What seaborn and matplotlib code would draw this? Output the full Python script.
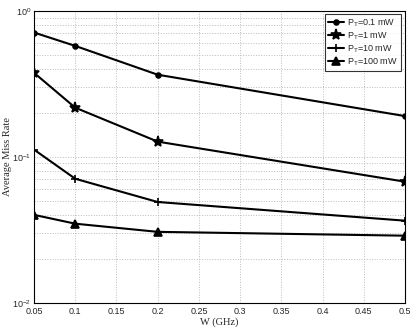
import seaborn as sns
import pandas as pd
import matplotlib.pyplot as plt

# Datos
bandwidth = [0.05, 0.1, 0.2, 0.5]
miss_01mw = [0.71, 0.575, 0.365, 0.19]
miss_1mw = [0.376, 0.217, 0.127, 0.0675]
miss_10mw = [0.112, 0.0707, 0.049, 0.0365]
miss_100mw = [0.040, 0.0348, 0.0306, 0.0288]
series_labels = ['P$_T$=0.1 mW', 'P$_T$=1 mW', 'P$_T$=10 mW', 'P$_T$=100 mW']
x_ticks = [0.05, 0.1, 0.15, 0.2, 0.25, 0.3, 0.35, 0.4, 0.45, 0.5]

rows = []
for label, values in zip(series_labels, [miss_01mw, miss_1mw, miss_10mw, miss_100mw]):
    for w, v in zip(bandwidth, values):
        rows.append({'W': w, 'Miss': v, 'Potencia': label})
df = pd.DataFrame(rows)

sns.set_style('white')
plt.rcParams['font.family'] = ['Liberation Sans', 'DejaVu Sans']
plt.rcParams['mathtext.fontset'] = 'custom'
plt.rcParams['mathtext.rm'] = 'Liberation Sans'
plt.rcParams['mathtext.it'] = 'Liberation Sans'

fig = plt.figure(figsize=(4.15, 3.28), dpi=100)
ax = fig.add_axes([0.082, 0.077, 0.894, 0.89])

markers = {series_labels[0]: 'o', series_labels[1]: '*', series_labels[2]: '+', series_labels[3]: '^'}
sizes = {series_labels[0]: 3.5, series_labels[1]: 8, series_labels[2]: 5.5, series_labels[3]: 5.5}
for label in series_labels:
    sub = df[df['Potencia'] == label]
    sns.lineplot(data=sub, x='W', y='Miss', ax=ax, color='black', linewidth=1.5,
                 marker=markers[label], markersize=sizes[label], markeredgewidth=1.2,
                 markeredgecolor='black', markerfacecolor='black', label=label)

ax.set_yscale('log')
ax.set_xlim(0.05, 0.5)
ax.set_ylim(0.01, 1)
ax.set_xticks(x_ticks)
ax.set_xticklabels([f'{t:g}' for t in x_ticks])
ax.tick_params(axis='both', labelsize=6.5, direction='in', length=3, which='both', pad=2)
ax.tick_params(axis='x', pad=3)
ax.tick_params(axis='both', which='minor', length=2)
ax.grid(True, which='major', linestyle=':', color='#bbbbbb', linewidth=0.7)
ax.grid(True, which='minor', axis='y', linestyle=':', color='#bbbbbb', linewidth=0.7)
for spine in ax.spines.values():
    spine.set_color('black')
    spine.set_linewidth(0.8)

ax.set_xlabel('W (GHz)', fontsize=7.5, family='Liberation Serif', labelpad=1)
ax.set_ylabel('Average Miss Rate', fontsize=7.5, family='Liberation Serif', labelpad=0)

leg = ax.legend(loc='upper right', fontsize=6.5, frameon=True, fancybox=False,
                edgecolor='black', handlelength=1.7, handletextpad=0.4,
                borderpad=0.35, labelspacing=0.15, borderaxespad=0.4)
leg.get_frame().set_linewidth(0.8)

plt.savefig('out.png', dpi=100)
